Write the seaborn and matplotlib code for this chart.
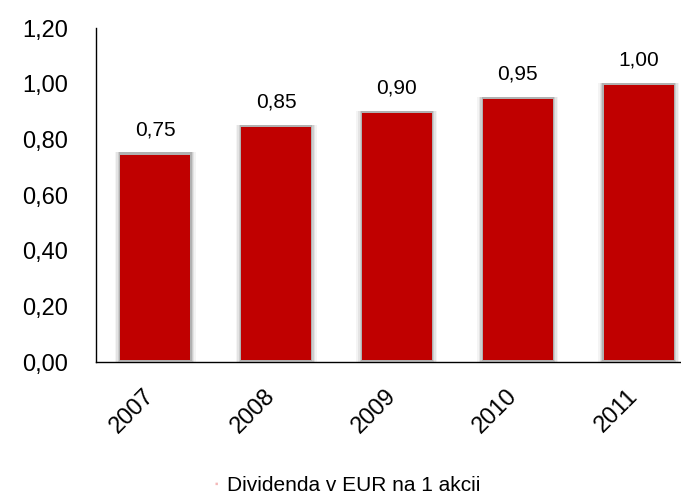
import matplotlib
matplotlib.use("Agg")
import matplotlib.pyplot as plt
import matplotlib.transforms as mtrans
import numpy as np
import pandas as pd
import seaborn as sns

years = ["2007", "2008", "2009", "2010", "2011"]
dividend = [0.75, 0.85, 0.90, 0.95, 1.00]
value_labels = ["0,75", "0,85", "0,90", "0,95", "1,00"]
y_ticks = [0.0, 0.2, 0.4, 0.6, 0.8, 1.0, 1.2]
y_tick_labels = ["0,00", "0,20", "0,40", "0,60", "0,80", "1,00", "1,20"]
series_name = "Dividenda v EUR na 1 akcii"

df = pd.DataFrame({"Rok": years, "Dividenda": dividend})

sns.set_style("white")
plt.rcParams["font.family"] = ["Liberation Sans", "DejaVu Sans"]
plt.rcParams["text.color"] = "black"
plt.rcParams["xtick.color"] = "black"
plt.rcParams["ytick.color"] = "black"

fig = plt.figure(figsize=(6.81, 4.96), dpi=100)
ax = fig.add_axes([0.141, 0.270, 0.859, 0.6735])

# blurred shadow behind the bars
for i, (w, a) in enumerate([(0.67, 0.05), (0.645, 0.08), (0.62, 0.12),
                            (0.60, 0.18)]):
    sns.barplot(data=df, x="Rok", y="Dividenda", color="#303030",
                width=w, alpha=a, ax=ax, saturation=1, zorder=1)
    for p in ax.patches[-5:]:
        p.set_height(p.get_height() - 0.005 + 0.012 - 0.003 * i)
        p.set_y(0.008 - 0.012 + 0.003 * i)
        p.set_edgecolor("none")
sns.barplot(data=df, x="Rok", y="Dividenda", color="#C00000",
            width=0.58, ax=ax, saturation=1, zorder=2)
for p in ax.patches[-5:]:
    p.set_height(p.get_height() - 0.013)
    p.set_y(0.008)
    p.set_edgecolor("none")

for i, v in enumerate(dividend):
    ax.text(i, v + 0.085, value_labels[i], ha="center", va="center",
            fontsize=15, color="black")

ax.set_ylim(0, 1.2)
ax.set_xlim(-0.49, 4.35)
ax.set_yticks(y_ticks)
ax.set_yticklabels(y_tick_labels, fontsize=17, color="black")
ax.set_xticks(range(len(years)))
ax.set_xticklabels(years, rotation=45, ha="right", va="center",
                   rotation_mode="anchor", fontsize=17, color="black")
ax.tick_params(axis="x", length=0, pad=22)
ax.tick_params(axis="y", length=0, pad=20)
shift = mtrans.ScaledTranslation(-4 / 100, 0, fig.dpi_scale_trans)
for lbl in ax.get_xticklabels():
    lbl.set_transform(lbl.get_transform() + shift)
ax.set_xlabel("")
ax.set_ylabel("")
for s in ["top", "right"]:
    ax.spines[s].set_visible(False)
for s in ["left", "bottom"]:
    ax.spines[s].set_color("black")
    ax.spines[s].set_linewidth(1.0)

fig.text(0.318, 0.024, "\u25aa", color="#F4B8B8", fontsize=7,
         ha="center", va="center")
fig.text(0.334, 0.022, series_name, fontsize=15, ha="left", va="center")

fig.savefig("out.png", dpi=100)
